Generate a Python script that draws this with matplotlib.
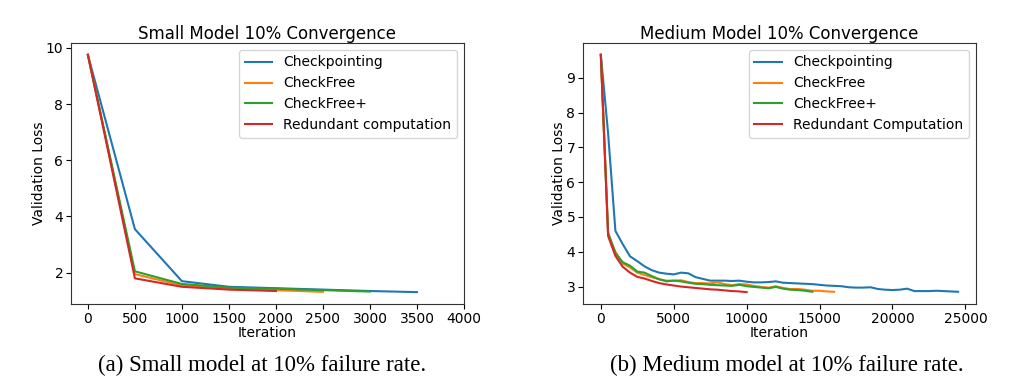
import matplotlib
matplotlib.use('Agg')
import matplotlib.pyplot as plt
import numpy as np

#  small model, evaluated every 500 iterations
small_iters = [0, 500, 1000, 1500, 2000, 2500, 3000, 3500]
small_checkpointing = [9.75, 3.55, 1.70, 1.50, 1.45, 1.40, 1.35, 1.31]
small_checkfree = [9.75, 1.95, 1.55, 1.42, 1.38, 1.32]
small_checkfree_plus = [9.75, 2.05, 1.60, 1.47, 1.43, 1.38, 1.33]
small_redundant = [9.75, 1.80, 1.50, 1.40, 1.35]

#  medium model, also every 500 iterations
medium_checkpointing = [9.66, 7.40, 4.60, 4.22, 3.87, 3.73, 3.58, 3.47, 3.40, 3.37,
                        3.35, 3.40, 3.38, 3.27, 3.22, 3.17, 3.17, 3.17, 3.16, 3.17,
                        3.14, 3.12, 3.12, 3.13, 3.15, 3.11, 3.10, 3.09, 3.08, 3.07,
                        3.05, 3.03, 3.02, 3.01, 2.98, 2.97, 2.97, 2.98, 2.93, 2.91,
                        2.90, 2.91, 2.94, 2.87, 2.87, 2.87, 2.88, 2.87, 2.86, 2.85]
medium_checkfree = [9.66, 4.50, 4.00, 3.66, 3.55, 3.40, 3.33, 3.27, 3.21, 3.17,
                    3.17, 3.18, 3.13, 3.10, 3.10, 3.09, 3.12, 3.07, 3.04, 3.07,
                    3.06, 3.02, 2.99, 2.97, 3.01, 2.96, 2.93, 2.93, 2.91, 2.88,
                    2.88, 2.86, 2.85]
medium_checkfree_plus = [9.66, 4.55, 3.96, 3.70, 3.60, 3.43, 3.40, 3.30, 3.21, 3.15,
                         3.17, 3.15, 3.11, 3.08, 3.07, 3.05, 3.04, 3.03, 3.02, 3.05,
                         3.01, 2.99, 2.97, 2.95, 2.99, 2.94, 2.91, 2.90, 2.88, 2.85]
medium_redundant = [9.66, 4.45, 3.88, 3.57, 3.40, 3.28, 3.23, 3.16, 3.10, 3.06,
                    3.03, 3.00, 2.98, 2.96, 2.94, 2.92, 2.91, 2.89, 2.87, 2.86, 2.84]

small_labels = ['Checkpointing', 'CheckFree', 'CheckFree+', 'Redundant computation']
medium_labels = ['Checkpointing', 'CheckFree', 'CheckFree+', 'Redundant Computation']
colors = ['#1f77b4', '#ff7f0e', '#2ca02c', '#d62728']

FS = 10


def draw_panel(ax, series, labels, step, title):
    for values, label, color in zip(series, labels, colors):
        x = np.arange(len(values)) * step
        ax.plot(x, values, color=color, linewidth=1.5, label=label)
    ax.set_title(title, fontsize=12, pad=3)
    ax.set_xlabel('Iteration', fontsize=FS, labelpad=0)
    ax.set_ylabel('Validation Loss', fontsize=FS, labelpad=0)
    ax.tick_params(labelsize=FS, pad=2)
    ax.legend(loc='upper right', fontsize=FS)
    for s in ax.spines.values():
        s.set_edgecolor('#333333')


def main():
    fig = plt.figure(figsize=(10.24, 3.8), dpi=100)

    ax1 = fig.add_axes([0.0693, 0.2, 0.3838, 0.687])
    draw_panel(ax1, [small_checkpointing, small_checkfree, small_checkfree_plus, small_redundant],
               small_labels, 500, 'Small Model 10% Convergence')
    ax1.set_xlim(-180, 4000)
    ax1.set_xticks(np.arange(0, 4001, 500))
    ax1.set_yticks([2, 4, 6, 8, 10])

    ax2 = fig.add_axes([0.5693, 0.2, 0.3838, 0.687])
    draw_panel(ax2, [medium_checkpointing, medium_checkfree, medium_checkfree_plus, medium_redundant],
               medium_labels, 500, 'Medium Model 10% Convergence')
    ax2.set_xticks(np.arange(0, 25001, 5000))
    ax2.set_yticks(np.arange(3, 10))

    #  captions under each panel
    fig.text(262 / 1024, 1 - 365 / 380, '(a) Small model at 10% failure rate.',
             ha='center', va='center', fontsize=16.5, family='Liberation Serif')
    fig.text(787 / 1024, 1 - 365 / 380, '(b) Medium model at 10% failure rate.',
             ha='center', va='center', fontsize=16.5, family='Liberation Serif')

    fig.savefig('out.png', dpi=100)


if __name__ == '__main__':
    main()
